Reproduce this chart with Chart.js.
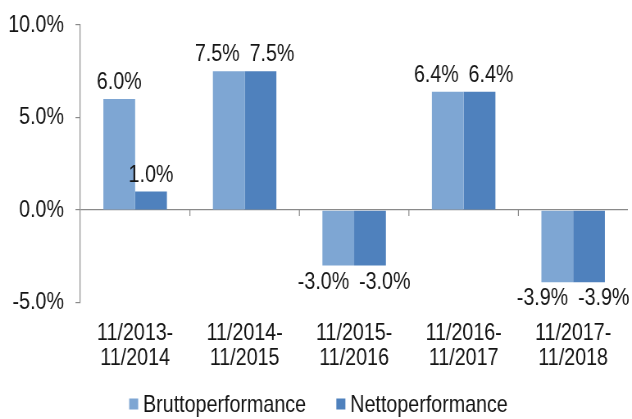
<!DOCTYPE html>
<html>
<head>
<meta charset="utf-8">
<script src="https://cdn.jsdelivr.net/npm/chart.js@4/dist/chart.umd.min.js"></script>
<style>
  html, body { margin: 0; padding: 0; background: #fff; overflow: hidden; }
  #wrap { width: 632px; height: 419px; overflow: hidden; }
  /* the original uses a narrow font: draw wider and squeeze horizontally */
  #myChart { transform: scaleX(0.8197); transform-origin: 0 0; }
</style>
</head>
<body>
<div id="wrap"><canvas id="myChart" width="771" height="419"></canvas></div>
<script>
// chart values
var periods = [['11/2013-', '11/2014'], ['11/2014-', '11/2015'], ['11/2015-', '11/2016'], ['11/2016-', '11/2017'], ['11/2017-', '11/2018']];
var brutto = [6.0, 7.5, -3.0, 6.4, -3.9];
var netto = [1.0, 7.5, -3.0, 6.4, -3.9];
var yTicks = [-5, 0, 5, 10];

var FONT = '"Liberation Sans", Arial, sans-serif';
var FS = 24;
var TEXT = '#141414';
var AXIS = '#8a8a8a';

function pct(v) { return v.toFixed(1) + '%'; }

// value labels above / below each bar, pushed apart when a pair would collide
var barLabels = {
    id: 'barLabels',
    afterDatasetsDraw: function (chart) {
        var ctx = chart.ctx;
        ctx.save();
        ctx.font = FS + 'px ' + FONT;
        ctx.fillStyle = TEXT;
        ctx.textAlign = 'center';
        ctx.textBaseline = 'alphabetic';
        var m0 = chart.getDatasetMeta(0).data, m1 = chart.getDatasetMeta(1).data;
        for (var i = 0; i < periods.length; i++) {
            var items = [
                { v: brutto[i], bar: m0[i] },
                { v: netto[i], bar: m1[i] }
            ];
            items.forEach(function (it) {
                it.text = pct(it.v);
                it.w = ctx.measureText(it.text).width;
                it.x = it.bar.x;
                it.y = it.v >= 0 ? it.bar.y - 10 : it.bar.y + 23;
            });
            var a = items[0], b = items[1];
            if (Math.abs(a.y - b.y) < FS && (a.x + a.w / 2) > (b.x - b.w / 2)) {
                var mid = (a.x + b.x) / 2;
                a.x = mid - a.w / 2 - 6;
                b.x = mid + b.w / 2 + 6;
            }
            items.forEach(function (it) { ctx.fillText(it.text, it.x, it.y); });
        }
        ctx.restore();
    }
};

// small tick marks on the zero line between categories
var zeroTicks = {
    id: 'zeroTicks',
    afterDatasetsDraw: function (chart) {
        var ctx = chart.ctx;
        var x = chart.scales.x, y = chart.scales.y;
        var y0 = Math.round(y.getPixelForValue(0));
        ctx.save();
        ctx.strokeStyle = AXIS;
        ctx.lineWidth = 1.2;
        ctx.beginPath();
        for (var i = 0; i < periods.length - 1; i++) {
            var px = (x.getPixelForValue(i) + x.getPixelForValue(i + 1)) / 2;
            ctx.moveTo(px, y0);
            ctx.lineTo(px, y0 + 6);
        }
        ctx.stroke();
        ctx.restore();
    }
};

// legend at the bottom: small square, tight gap to the text, wide gap between items
var bottomLegend = {
    id: 'bottomLegend',
    afterDraw: function (chart) {
        var ctx = chart.ctx;
        var box = 11, gap = 6, between = 37;
        ctx.save();
        ctx.font = FS + 'px ' + FONT;
        ctx.textBaseline = 'middle';
        ctx.textAlign = 'left';
        var sets = chart.data.datasets;
        var widths = sets.map(function (ds) { return box + gap + ctx.measureText(ds.label).width; });
        var total = widths.reduce(function (s, w) { return s + w; }, 0) + between * (sets.length - 1);
        var x = (chart.width - total) / 2 + 3;
        var y = chart.height - 14;
        sets.forEach(function (ds, i) {
            ctx.fillStyle = ds.backgroundColor;
            ctx.fillRect(x, y - box / 2 - 1, box, box);
            ctx.fillStyle = TEXT;
            ctx.fillText(ds.label, x + box + gap, y);
            x += widths[i] + between;
        });
        ctx.restore();
    }
};

function main() {
    var ctx = document.getElementById('myChart').getContext('2d');
    var chart = new Chart(ctx, {
        type: 'bar',
        data: {
            labels: periods,
            datasets: [{
                label: 'Bruttoperformance',
                backgroundColor: '#7EA6D3',
                data: brutto
            }, {
                label: 'Nettoperformance',
                backgroundColor: '#4F81BD',
                data: netto
            }]
        },
        options: {
            responsive: false,
            animation: false,
            layout: { padding: { left: -4, right: 5, top: 4, bottom: 38 } },
            datasets: {
                bar: { categoryPercentage: 0.58, barPercentage: 1.0 }
            },
            plugins: {
                legend: { display: false },
                tooltip: { enabled: false }
            },
            scales: {
                x: {
                    border: { display: false },
                    grid: { display: false },
                    ticks: {
                        color: TEXT,
                        padding: 10,
                        font: { family: FONT, size: FS, lineHeight: 1.05 },
                        maxRotation: 0
                    }
                },
                y: {
                    min: -5,
                    max: 10,
                    border: { display: true, color: AXIS, width: 1.2 },
                    afterBuildTicks: function (axis) {
                        axis.ticks = yTicks.map(function (v) { return { value: v }; });
                    },
                    grid: {
                        drawTicks: true,
                        tickLength: 6,
                        tickColor: AXIS,
                        lineWidth: 1.2,
                        color: function (c) {
                            return c.tick && c.tick.value === 0 ? AXIS : 'rgba(0,0,0,0)';
                        }
                    },
                    ticks: {
                        color: TEXT,
                        padding: 14,
                        font: { family: FONT, size: FS, lineHeight: 0.92 },
                        callback: function (v) { return pct(v); }
                    }
                }
            }
        },
        plugins: [barLabels, zeroTicks, bottomLegend]
    });
}

main();
</script>
</body>
</html>
